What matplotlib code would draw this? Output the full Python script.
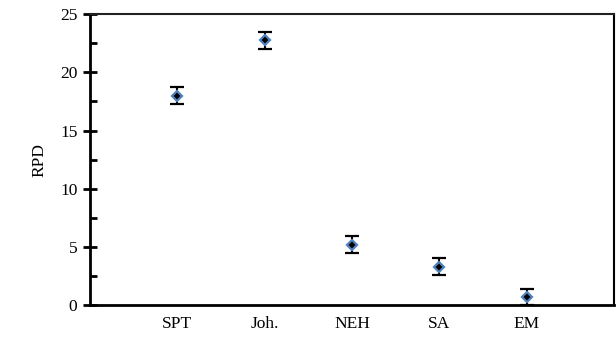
import numpy as np
import matplotlib.pyplot as plt
from matplotlib.ticker import MultipleLocator

# RPD of each method with its error bar
methods = ['SPT', 'Joh.', 'NEH', 'SA', 'EM']
rpd = [18.0, 22.75, 5.2, 3.3, 0.7]
err = [0.75, 0.72, 0.75, 0.75, 0.65]

plt.rcParams['font.family'] = ['Liberation Serif', 'DejaVu Serif']

fig = plt.figure(figsize=(6.16, 3.44), dpi=100)
ax = fig.add_axes([0.146, 0.113, 0.851, 0.846])

x = np.arange(1, len(methods) + 1)
ax.errorbar(x, rpd, yerr=err, fmt='D', color='black', ecolor='black',
            markerfacecolor='black', markeredgecolor='#4F81BD',
            markersize=5.5, markeredgewidth=1.6, elinewidth=1.5,
            capsize=5, capthick=1.5)

ax.set_xlim(0, 6)
ax.set_ylim(0, 25)
ax.set_xticks(x)
ax.set_xticklabels(methods, fontsize=12.5)
ax.tick_params(axis='x', length=0, pad=8)

ax.yaxis.set_major_locator(MultipleLocator(5))
ax.yaxis.set_minor_locator(MultipleLocator(2.5))
ax.tick_params(axis='y', which='major', direction='inout', length=10,
               width=2, labelsize=12.5, pad=4)
ax.tick_params(axis='y', which='minor', direction='in', length=5, width=2)
ax.set_ylabel('RPD', fontsize=12.5, labelpad=9)

ax.spines['left'].set_linewidth(2)
ax.spines['bottom'].set_linewidth(2)
ax.spines['top'].set_linewidth(1.5)
ax.spines['top'].set_color('#222222')
ax.spines['right'].set_linewidth(1.5)

fig.savefig('out.png', dpi=100)
